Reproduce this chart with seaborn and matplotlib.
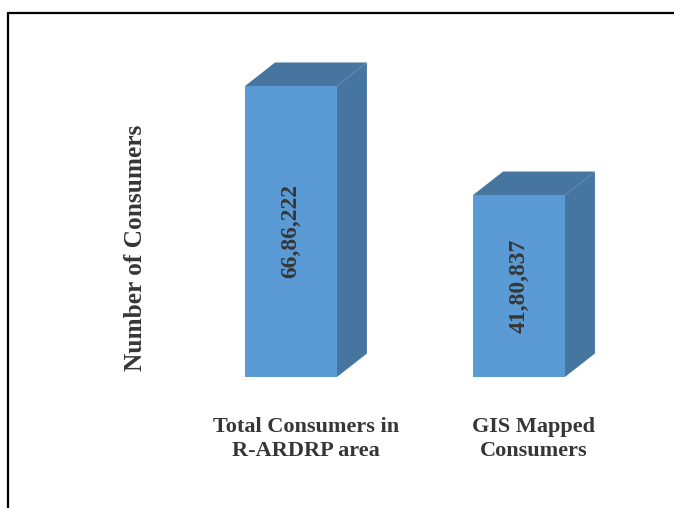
import matplotlib
matplotlib.use("Agg")
import matplotlib.pyplot as plt
import seaborn as sns
import pandas as pd
from matplotlib.patches import Polygon
from matplotlib.lines import Line2D

# Chart data
categories = ["Total Consumers in\nR-ARDRP area", "GIS Mapped\nConsumers"]
consumers = [6686222, 4180837]
value_labels = ["66,86,222", "41,80,837"]
y_title = "Number of Consumers"

FRONT = "#5b9bd5"
SHADE = "#4676a0"
TEXT = "#363636"

sns.set_theme(style="white")
plt.rcParams["font.family"] = ["Liberation Serif", "DejaVu Serif"]
plt.rcParams["font.weight"] = "bold"

W, H = 674, 508
fig = plt.figure(figsize=(W / 100, H / 100), dpi=100)
ax = fig.add_axes([150 / W, (H - 377) / H, 500 / W, 337 / H])

df = pd.DataFrame({"category": categories, "consumers": consumers})
sns.barplot(data=df, x="category", y="consumers", ax=ax, color=FRONT,
            saturation=1, width=0.403, edgecolor="none", linewidth=0, zorder=3)

ax.set_xlim(-0.6184, 1.5746)
ax.set_ylim(0, 7.743e6)
for s in ax.spines.values():
    s.set_visible(False)
ax.set_yticks([])
ax.set_xlabel("")

ax.set_ylabel(y_title, fontsize=18.3, fontweight="bold", color=TEXT, va="center")
ax.yaxis.set_label_coords(-0.028, 0.383)

# Depth of the 3-D block, expressed in display pixels and converted to data units
fig.canvas.draw()
inv = ax.transData.inverted()
o = inv.transform((0, 0))
d = inv.transform((30, 23.5)) - o
ddx, ddy = d

bars = list(ax.patches)
centers = []
for bar, label in zip(bars, value_labels):
    x0, w, h = bar.get_x(), bar.get_width(), bar.get_height()
    x1 = x0 + w
    centers.append(x0 + w / 2)
    top = Polygon([(x0, h), (x1, h), (x1 + ddx, h + ddy), (x0 + ddx, h + ddy)],
                  closed=True, facecolor=SHADE, edgecolor="none", zorder=2)
    side = Polygon([(x1, 0), (x1 + ddx, ddy), (x1 + ddx, h + ddy), (x1, h)],
                   closed=True, facecolor=SHADE, edgecolor="none", zorder=2)
    ax.add_patch(top)
    ax.add_patch(side)
    ax.text(x0 + w / 2, h / 2, label, rotation=90, ha="center", va="center",
            fontsize=17, fontweight="bold", color=TEXT, zorder=4)

# Category labels sit under the middle of each whole block (front + depth)
ax.set_xticks([c + ddx / 2 for c in centers])
ax.set_xticklabels(categories)
ax.tick_params(axis="x", length=0, pad=29)
for lbl in ax.get_xticklabels():
    lbl.set_fontsize(16)
    lbl.set_fontweight("bold")
    lbl.set_color(TEXT)
    lbl.set_linespacing(1.25)

# Outer frame
fig.add_artist(Line2D([7.5 / W, 7.5 / W], [0, 1 - 12.5 / H], color="black",
                      lw=1.6, transform=fig.transFigure))
fig.add_artist(Line2D([7.5 / W, 1.0], [1 - 12.5 / H, 1 - 12.5 / H], color="black",
                      lw=1.6, transform=fig.transFigure))

fig.savefig("out.png", dpi=100, facecolor="white")
